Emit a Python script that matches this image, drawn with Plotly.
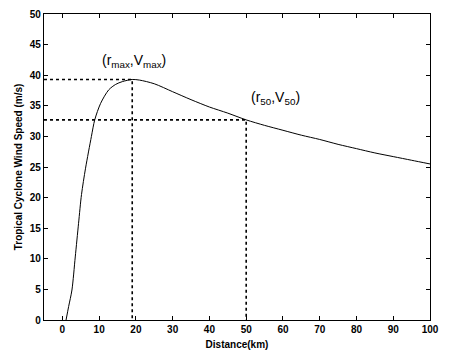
import plotly.graph_objects as go

distance_km = [1.0, 1.7, 2.6, 3.5, 4.4, 5.2, 6.3, 7.9, 8.8, 10.4, 12.6, 14.5, 16.3, 19, 21, 25,
               30, 35, 40, 45, 50, 55, 60, 65, 70, 75, 80, 85, 90, 95, 100]
wind_speed = [0, 2.2, 4.9, 10.3, 15.8, 20.5, 24.8, 30.0, 32.7, 35.4, 37.6, 38.5, 38.95, 39.3, 39.2, 38.6,
              37.3, 36.0, 34.8, 33.8, 32.7, 31.8, 31.0, 30.2, 29.5, 28.7, 28.0, 27.3, 26.7, 26.1, 25.5]

r_max, v_max = 19, 39.3
r_50, v_50 = 50, 32.7
x_tick_vals = [0, 10, 20, 30, 40, 50, 60, 70, 80, 90, 100]
y_tick_vals = [0, 5, 10, 15, 20, 25, 30, 35, 40, 45, 50]

fig = go.Figure()
fig.add_trace(go.Scatter(x=distance_km, y=wind_speed, mode="lines",
                         line=dict(color="black", width=1, shape="spline", smoothing=0.8),
                         showlegend=False))
dash_style = dict(color="black", width=1.6, dash="dot")
for r, v in [(r_max, v_max), (r_50, v_50)]:
    fig.add_trace(go.Scatter(x=[-5, r, r], y=[v, v, 0], mode="lines", line=dash_style, showlegend=False))

ann_font = dict(family="Liberation Sans Narrow, Arial Narrow, Liberation Sans", size=14, color="black")
fig.add_annotation(x=19.6, y=42.3, text="(r<sub>max</sub>,V<sub>max</sub>)", showarrow=False, font=ann_font)
fig.add_annotation(x=58.0, y=36.3, text="(r<sub>50</sub>,V<sub>50</sub>)", showarrow=False, font=ann_font)

tickfont = dict(family="Liberation Sans, Arial", size=10, color="black", weight="bold")
titlefont = dict(family="Liberation Sans, Arial", size=10, color="black", weight="bold")
fig.update_xaxes(range=[-5, 100], tickvals=x_tick_vals, ticks="inside", ticklen=4, tickcolor="black",
                 showline=True, linecolor="black", linewidth=1.2, mirror="ticks", showgrid=False, zeroline=False,
                 automargin=False,
                 tickfont=tickfont, title=dict(text="Distance(km)", font=titlefont, standoff=6))
fig.update_yaxes(range=[0, 50], tickvals=y_tick_vals, ticks="inside", ticklen=4, tickcolor="black",
                 showline=True, linecolor="black", linewidth=1.2, mirror="ticks", showgrid=False, zeroline=False,
                 automargin=False,
                 tickfont=tickfont, title=dict(text="Tropical Cyclone Wind Speed (m/s)", font=titlefont, standoff=5))
fig.update_layout(width=447, height=348, margin=dict(l=36, r=25, t=6, b=36),
                  plot_bgcolor="white", paper_bgcolor="white")
fig.write_html("out.html")
